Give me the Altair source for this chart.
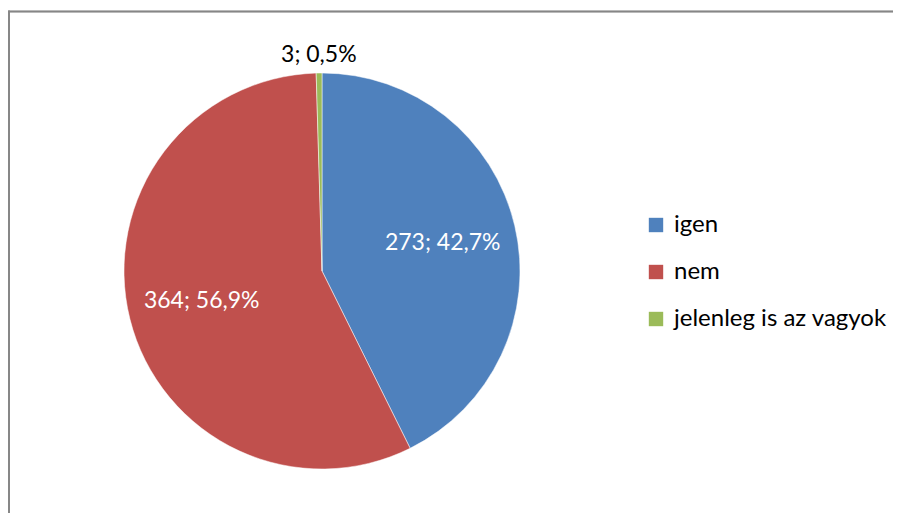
import altair as alt
import pandas as pd

categories = ["igen", "nem", "jelenleg is az vagyok"]
values = [273, 364, 3]
colors = ["#4F81BD", "#C0504D", "#9BBB59"]

total = sum(values)
labels = [f"{v}; {v / total * 100:.1f}%".replace(".", ",") for v in values]
df = pd.DataFrame({
    "cat": categories,
    "value": values,
    "label": labels,
    "order": list(range(len(values))),
    "share": [v / total for v in values],
})

FONT = "Lato"
W, H = 885, 505
CX, CY, R = 314, 263, 198

base = alt.Chart(df).encode(
    theta=alt.Theta("value:Q", stack=True),
    order=alt.Order("order:Q"),
)

pie = base.mark_arc(radius=R, stroke="white", strokeWidth=0.5).encode(
    x=alt.value(CX),
    y=alt.value(CY),
    color=alt.Color(
        "cat:N",
        scale=alt.Scale(domain=categories, range=colors),
        sort=categories,
        legend=alt.Legend(
            title=None,
            orient="none",
            legendX=636,
            legendY=205,
            symbolType="square",
            symbolSize=207,
            symbolStrokeWidth=0,
            labelFont=FONT,
            labelFontSize=24,
            labelColor="#000000",
            labelLimit=400,
            rowPadding=23,
            labelOffset=6,
        ),
    ),
)

inner = base.mark_text(radius=124, font=FONT, fontSize=23, color="white").encode(
    x=alt.value(CX),
    y=alt.value(CY),
    text=alt.condition("datum.share > 0.05", alt.Text("label:N"), alt.value("")),
)

outer = base.mark_text(radius=216, font=FONT, fontSize=23, color="black").encode(
    x=alt.value(CX),
    y=alt.value(CY),
    text=alt.condition("datum.share <= 0.05", alt.Text("label:N"), alt.value("")),
)

top_edge = alt.Chart(df).mark_rule(stroke="#868686", strokeWidth=1.5).encode(
    x=alt.value(0.25), x2=alt.value(W), y=alt.value(3.5)
)
left_edge = alt.Chart(df).mark_rule(stroke="#868686", strokeWidth=1.5).encode(
    x=alt.value(1), y=alt.value(2.75), y2=alt.value(H)
)

chart = alt.layer(top_edge, left_edge, pie, inner, outer).properties(
    width=W, height=H, autosize="none", padding=0
).configure_view(stroke=None)

chart.save("out.html", embed_options={"renderer": "svg", "actions": False})
